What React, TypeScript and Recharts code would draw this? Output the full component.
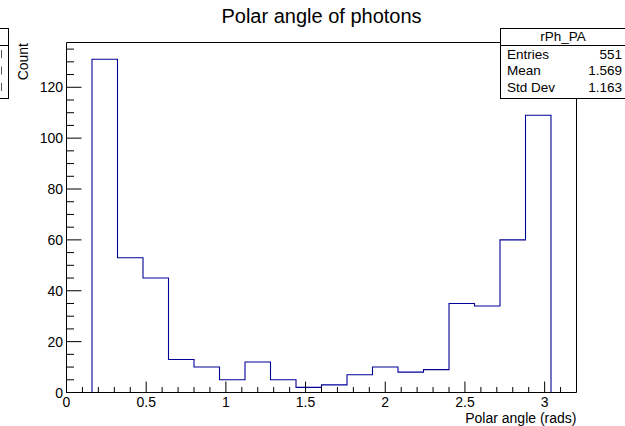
import React from 'react';
import { ComposedChart, Line, XAxis, YAxis } from 'recharts';

const binEdges = [0, 0.16, 0.32, 0.48, 0.64, 0.8, 0.96, 1.12, 1.28, 1.44, 1.6, 1.76, 1.92, 2.08, 2.24, 2.4, 2.56, 2.72, 2.88, 3.04, 3.2];
const counts = [0, 131, 53, 45, 13, 10, 5, 12, 5, 2, 3, 7, 10, 8, 9, 35, 34, 60, 109, 0];

const xTicks = [0, 0.1, 0.2, 0.3, 0.4, 0.5, 0.6, 0.7, 0.8, 0.9, 1, 1.1, 1.2, 1.3, 1.4, 1.5, 1.6, 1.7, 1.8, 1.9, 2, 2.1, 2.2, 2.3, 2.4, 2.5, 2.6, 2.7, 2.8, 2.9, 3, 3.1];
const xMajorTicks = [0, 0.5, 1, 1.5, 2, 2.5, 3];
const yTicks = [0, 5, 10, 15, 20, 25, 30, 35, 40, 45, 50, 55, 60, 65, 70, 75, 80, 85, 90, 95, 100, 105, 110, 115, 120, 125, 130, 135];
const yMajorTicks = [0, 20, 40, 60, 80, 100, 120];

const title = 'Polar angle of photons';
const xTitle = 'Polar angle (rads)';
const yTitle = 'Count';
const statsName = 'rPh_PA';
const statsLabels = ['Entries', 'Mean', 'Std Dev'];
const statsValues = ['551', '1.569', '1.163'];

const data = binEdges.map((x, i) => ({ x, y: i < counts.length ? counts[i] : 0 }));

const FONT = '"Liberation Sans", Arial, Helvetica, sans-serif';

const XTick = (props: any) => {
  const { x, y, payload } = props;
  const v = payload.value;
  const major = xMajorTicks.includes(v);
  return (
    <g>
      <line x1={x} x2={x} y1={y} y2={y - (major ? 11 : 5.5)} stroke="#000" strokeWidth={1} />
      {major && (
        <text x={x} y={y + 14} textAnchor="middle" fontSize={14} fontFamily={FONT} fill="#000">
          {String(v)}
        </text>
      )}
    </g>
  );
};

const YTick = (props: any) => {
  const { x, y, payload } = props;
  const v = payload.value;
  const major = yMajorTicks.includes(v);
  return (
    <g>
      <line x1={x} x2={x + (major ? 15 : 7.5)} y1={y} y2={y} stroke="#000" strokeWidth={1} />
      {major && (
        <text x={x - 3.5} y={y + 5} textAnchor="end" fontSize={14} fontFamily={FONT} fill="#000">
          {String(v)}
        </text>
      )}
    </g>
  );
};

export default function App() {
  return (
    <div style={{ position: 'absolute', left: 0, top: 0, width: 625, height: 426, background: '#fff' }}>
      <ComposedChart
        width={625}
        height={426}
        data={data}
        margin={{ top: 32.5, right: 38.5, bottom: 3.5, left: 6.5 }}
      >
        <XAxis
          dataKey="x"
          type="number"
          domain={[0, 3.2]}
          allowDataOverflow
          ticks={xTicks}
          interval={0}
          height={30}
          tickSize={0}
          tickMargin={0}
          tickLine={false}
          tick={<XTick />}
          axisLine={{ stroke: '#000', strokeWidth: 1 }}
        />
        <XAxis
          xAxisId="top"
          orientation="top"
          type="number"
          domain={[0, 3.2]}
          height={10}
          tick={false}
          tickLine={false}
          axisLine={{ stroke: '#000', strokeWidth: 1 }}
        />
        <YAxis
          type="number"
          domain={[0, 137.6]}
          allowDataOverflow
          ticks={yTicks}
          interval={0}
          width={60}
          tickSize={0}
          tickMargin={0}
          tickLine={false}
          tick={<YTick />}
          axisLine={{ stroke: '#000', strokeWidth: 1 }}
        />
        <YAxis
          yAxisId="right"
          orientation="right"
          type="number"
          domain={[0, 1]}
          width={10}
          tick={false}
          tickLine={false}
          axisLine={{ stroke: '#000', strokeWidth: 1 }}
        />
        <Line
          dataKey="y"
          type="stepAfter"
          stroke="#000099"
          strokeWidth={1.1}
          dot={false}
          activeDot={false}
          isAnimationActive={false}
        />
      </ComposedChart>
      <svg
        width={625}
        height={426}
        style={{ position: 'absolute', left: 0, top: 0, pointerEvents: 'none' }}
        fontFamily={FONT}
      >
        <text x={321.5} y={23} textAnchor="middle" fontSize={20} fill="#000">{title}</text>
        <text x={576.5} y={423} textAnchor="end" fontSize={14} fill="#000">{xTitle}</text>
        <text x={28} y={43} textAnchor="end" fontSize={14} fill="#000" transform="rotate(-90 28 43)">{yTitle}</text>

        <rect x={500.5} y={28.5} width={140} height={70} fill="#fff" stroke="#000" strokeWidth={1} />
        <line x1={500.5} x2={625} y1={45.5} y2={45.5} stroke="#000" strokeWidth={1} />
        <text x={563} y={41} textAnchor="middle" fontSize={13.5} fill="#000">{statsName}</text>
        {statsLabels.map((l, i) => (
          <text key={l} x={507} y={58.5 + i * 16.5} fontSize={13.5} fill="#000">{l}</text>
        ))}
        {statsValues.map((v, i) => (
          <text key={'v' + i} x={622} y={58.5 + i * 16.5} textAnchor="end" fontSize={13.5} fill="#000">{v}</text>
        ))}

        <rect x={-60.5} y={28.5} width={69} height={70} fill="#fff" stroke="#000" strokeWidth={1} />
        <line x1={-60.5} x2={8.5} y1={45.5} y2={45.5} stroke="#000" strokeWidth={1} />
        {[0, 1, 2].map((i) => (
          <line key={'f' + i} x1={1.5} x2={1.5} y1={50 + i * 16.5} y2={58 + i * 16.5} stroke="#555" strokeWidth={1} />
        ))}
      </svg>
    </div>
  );
}
